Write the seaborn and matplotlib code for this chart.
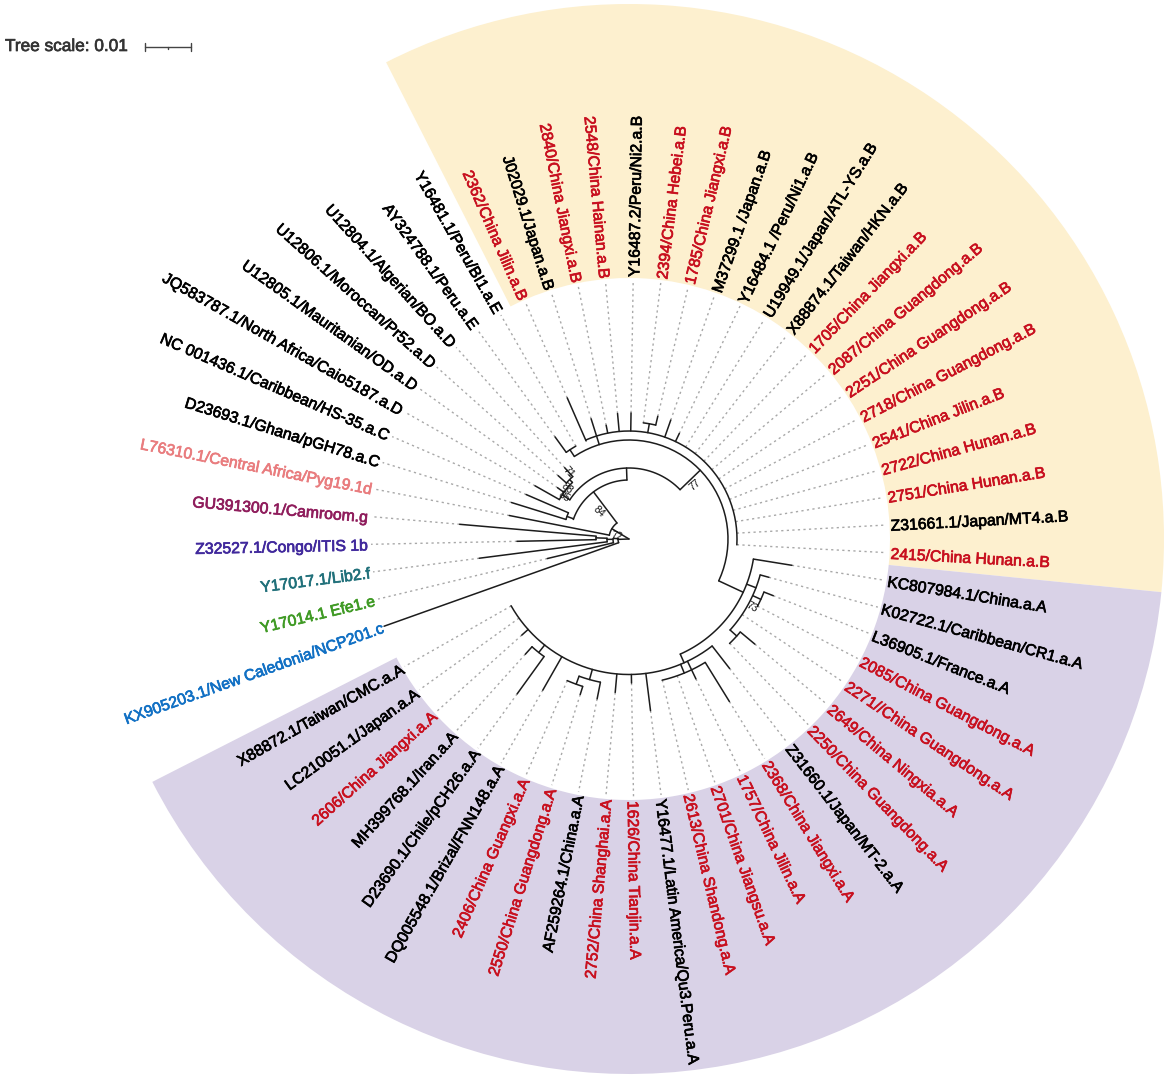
import numpy as np
import pandas as pd
import matplotlib
matplotlib.use("Agg")
import matplotlib.pyplot as plt
import matplotlib.patheffects as pe
from matplotlib.lines import Line2D
import seaborn as sns

# leaves, clockwise from the gap at lower left
leaf_names = [
    "KX905203.1/New Caledonia/NCP201.c", "Y17014.1 Efe1.e", "Y17017.1/Lib2.f", "Z32527.1/Congo/ITIS 1b",
    "GU391300.1/Camroom.g", "L76310.1/Central Africa/Pyg19.1d", "D23693.1/Ghana/pGH78.a.C",
    "NC 001436.1/Caribbean/HS-35.a.C", "JQ583787.1/North Africa/Caio5187.a.D", "U12805.1/Mauritanian/OD.a.D",
    "U12806.1/Moroccan/Pr52.a.D", "U12804.1/Algerian/BO.a.D", "AY324788.1/Peru.a.E", "Y16481.1/Peru/BI1.a.E",
    "2362/China Jilin.a.B", "J02029.1/Japan.a.B", "2840/China Jiangxi.a.B", "2548/China Hainan.a.B",
    "Y16487.2/Peru/Ni2.a.B", "2394/China Hebei.a.B", "1785/China Jiangxi.a.B", "M37299.1 /Japan.a.B",
    "Y16484.1 /Peru/Ni1.a.B", "U19949.1/Japan/ATL-YS.a.B", "X88874.1/Taiwan/HKN.a.B", "1705/China Jiangxi.a.B",
    "2087/China Guangdong.a.B", "2251/China Guangdong.a.B", "2718/China Guangdong.a.B", "2541/China Jilin.a.B",
    "2722/China Hunan.a.B", "2751/China Hunan.a.B", "Z31661.1/Japan/MT4.a.B", "2415/China Hunan.a.B",
    "KC807984.1/China.a.A", "K02722.1/Caribbean/CR1.a.A", "L36905.1/France.a.A", "2085/China Guangdong.a.A",
    "2271//China Guangdong.a.A", "2649/China Ningxia.a.A", "2250/China Guangdong.a.A", "Z31660.1/Japan/MT-2.a.A",
    "2368/China Jiangxi.a.A", "1757/China Jilin.a.A", "2701/China Jiangsu.a.A", "2613/China Shandong.a.A",
    "Y16477.1/Latin America/Qu3.Peru.a.A", "1626/China Tianjin.a.A", "2752/China Shanghai.a.A",
    "AF259264.1/China.a.A", "2550/China Guangdong.a.A", "2406/China Guangxi.a.A", "DQ005548.1/Brizal/FNN148.a.A",
    "D23690.1/Chile/pCH26.a.A", "MH399768.1/Iran.a.A", "2606/China Jiangxi.a.A", "LC210051.1/Japan.a.A",
    "X88872.1/Taiwan/CMC.a.A",
]
branch_start = [
    11, 16, 22, 33, 33, 20, 66, 66, 80, 80, 84, 84, 107, 107, 107, 99, 108, 108, 108, 117, 117, 108, 108, 108,
    108, 108, 108, 108, 108, 108, 108, 108, 108, 108, 126, 136, 145, 145, 136, 145, 145, 135.5, 145, 135.5, 145,
    145, 135.5, 135.5, 135.5, 146, 154.5, 154.5, 135.5, 145, 145, 135.5, 135.5, 135.5,
]
branch_tip = [
    260, 84, 151, 112, 170, 122, 123, 112, 108, 88, 95, 96, 126, 107, 154, 126, 116, 126, 126, 117, 126, 126, 117,
    108, 108, 108, 108, 108, 108, 108, 108, 108, 108, 108, 165, 145, 155, 145, 136, 164, 145, 164, 191, 155, 145,
    145, 173, 144, 154, 163, 163, 154.5, 174, 191, 155, 144, 135.5, 135.5,
]
red_names = ("2", "1")
other_colors = {
    "KX905203.1/New Caledonia/NCP201.c": "#1170c4", "Y17014.1 Efe1.e": "#3f9a24", "Y17017.1/Lib2.f": "#20707a",
    "Z32527.1/Congo/ITIS 1b": "#40289c", "GU391300.1/Camroom.g": "#8f1d5c",
    "L76310.1/Central Africa/Pyg19.1d": "#e97c7e",
}

# internal arcs: radius, from angle, to angle
arcs = [
    (20, 127, 169.4), (59, 160.7, 92), (71, 146.5, 44), (99, 123.5, -25), (108, 113.6, -3.1), (107, 125.9, 119.8),
    (117, 83, 76.8), (126, -9.2, -66), (136, -15.4, -42), (145, -21.5, -27.7), (145, -40, -46.1),
    (135.5, -52.2, -150.5), (145, -58.4, -76.8), (146, -101.4, -110), (154.5, -107.5, -113.6), (145, -125.9, -132),
    (66, 156.6, 162.8), (80, 150.5, 135), (84, 132, 138.2), (11, 199.6, 178), (16, 193.5, 181), (22, 187.3, 178),
    (33, 175.5, 181.2),
]
# internal branches: angle, radius in, radius out
stems = [
    (149, 0, 20), (182, 0, 11), (127, 20, 59), (92, 59, 71), (44, 71, 99), (-25, 99, 126), (160, 59, 66),
    (146.5, 71, 80), (135, 80, 84), (123.5, 99, 107), (80, 108, 117), (-21, 126, 136), (-24.6, 136, 145),
    (-42, 136, 145), (-66, 126, 135.5), (-67.6, 135.5, 145), (-105.7, 135.5, 146), (-110, 146, 154.5),
    (-128.5, 135.5, 145), (178, 11, 16), (181, 16, 22), (178, 22, 33),
]
support = [("84", 138, 41), ("77", 39.6, 85), ("72", 168, 13), ("73", -29, 140), ("71", 132, 90), ("88", 141, 80), ("85", 147, 77)]

clade_names = ["B", "A"]
clade_from = [117, -5.7]
clade_to = [-5.7, -153]
clade_colors = ["#fdf0cf", "#d9d2e7"]

step = 350 / (len(leaf_names) - 1)
leaf_angle = [199.6 - i * step for i in range(len(leaf_names))]


def leaf_color(name):
    if name in other_colors:
        return other_colors[name]
    if name[0] in red_names and name[1].isdigit() and "/China" in name[:11]:
        return "#c8101f"
    return "black"


def to_frame(segments):
    rows = []
    for k, (a, r) in enumerate(segments):
        rows.append(pd.DataFrame({"theta": np.deg2rad(a), "r": r, "seg": k}))
    return pd.concat(rows, ignore_index=True)


sns.set_theme(style="white")
plt.rcParams["font.family"] = ["Liberation Sans", "DejaVu Sans"]

fig = plt.figure(figsize=(11.7, 10.8), dpi=100)
rmax = 600
ax = fig.add_axes([(629 - rmax) / 1170, (1080 - 539 - rmax) / 1080, 2 * rmax / 1170, 2 * rmax / 1080], projection="polar")

for n in range(len(clade_names)):
    mid = np.deg2rad((clade_from[n] + clade_to[n]) / 2)
    width = np.deg2rad(clade_from[n] - clade_to[n])
    ax.bar(mid, 535 - 261, width=width, bottom=261, color=clade_colors[n], linewidth=0, zorder=1)

# dotted leaders
leaders = [([a, a], [t, 258]) for a, t in zip(leaf_angle, branch_tip) if t < 258]
sns.lineplot(data=to_frame(leaders), x="theta", y="r", units="seg", estimator=None, sort=False, color="#a8a8a8",
             linewidth=1.0, linestyle=(0, (1.6, 2.4)), ax=ax, zorder=2)

# tree
segs = [([a, a], [s, t]) for a, s, t in zip(leaf_angle, branch_start, branch_tip) if t > s]
segs += [([a, a], [r0, r1]) for a, r0, r1 in stems]
segs += [(np.linspace(a0, a1, 40), np.full(40, r)) for r, a0, a1 in arcs]
sns.lineplot(data=to_frame(segs), x="theta", y="r", units="seg", estimator=None, sort=False, color="#1c1c1c",
             linewidth=1.1, ax=ax, zorder=3)

for name, a in zip(leaf_names, leaf_angle):
    c = leaf_color(name)
    left = np.cos(np.deg2rad(a)) < 0
    ax.text(np.deg2rad(a), 262, name, color=c, fontsize=11.35, rotation=a - 180 if left else a,
            rotation_mode="anchor", ha="right" if left else "left", va="center_baseline", zorder=4,
            path_effects=[pe.withStroke(linewidth=0.5, foreground=c)])

for txt, a, r in support:
    rot = a - 180 if np.cos(np.deg2rad(a)) < 0 else a
    ax.text(np.deg2rad(a), r, txt, fontsize=7.5, color="#111111", rotation=rot, rotation_mode="anchor",
            ha="center", va="center", zorder=5)

ax.set_ylim(0, rmax)
ax.set_axis_off()

# scale bar
fig.text(5 / 1170, 1 - 46.5 / 1080, "Tree scale: 0.01", fontsize=12.4, color="#333333", va="center", ha="left",
         path_effects=[pe.withStroke(linewidth=0.5, foreground="#333333")])
bar_x = [145 / 1170, 191 / 1170]
bar_y = 1 - 46.5 / 1080
fig.add_artist(Line2D(bar_x, [bar_y, bar_y], color="#444444", lw=1))
for bx, h in [(bar_x[0], 4), (bar_x[1], 4)]:
    fig.add_artist(Line2D([bx, bx], [bar_y - h / 1080, bar_y + h / 1080], color="#444444", lw=1))
mid_x = sum(bar_x) / 2
fig.add_artist(Line2D([mid_x, mid_x], [bar_y - 2 / 1080, bar_y], color="#444444", lw=1))

fig.savefig("out.png", dpi=100)
